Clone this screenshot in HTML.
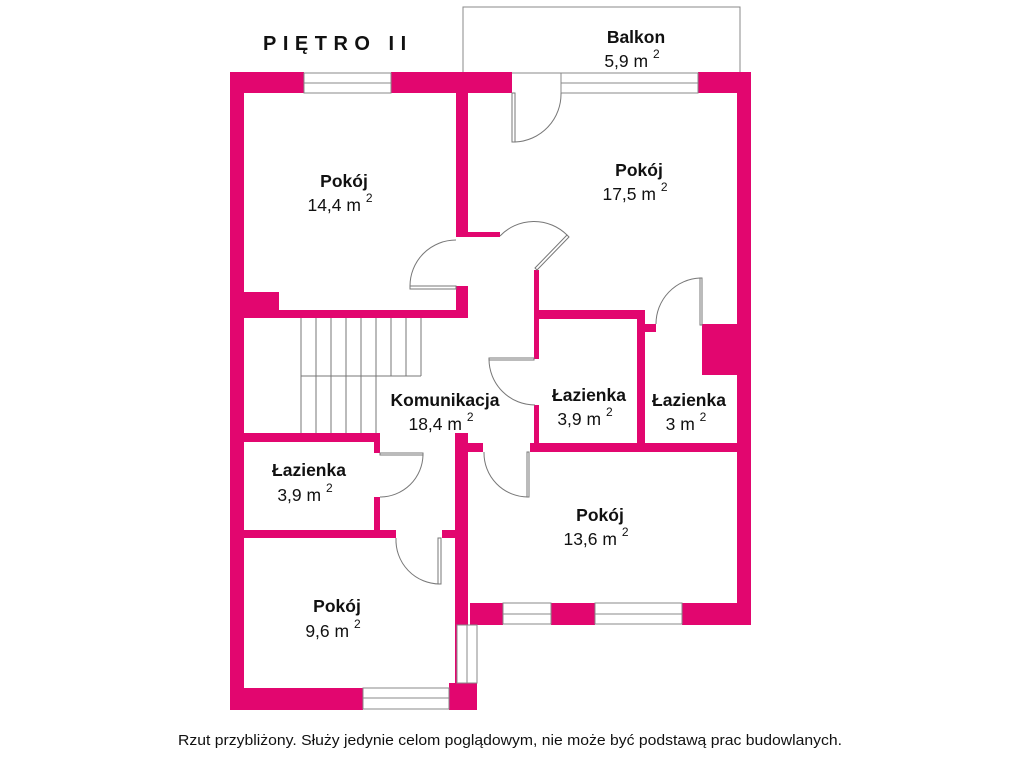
<!DOCTYPE html>
<html><head><meta charset="utf-8"><style>
html,body{margin:0;padding:0;background:#fff}
svg{display:block}
text{font-family:"Liberation Sans",sans-serif;fill:#111}
.b{font-weight:bold;font-size:17.5px}
.n{font-size:17.5px}
</style></head><body>
<svg width="1024" height="768" viewBox="0 0 1024 768" xmlns="http://www.w3.org/2000/svg">
<g fill="none" stroke="#888" stroke-width="1">
<rect x="463" y="7" width="277" height="66"/>
</g>
<g fill="#e2066f">
<rect x="230" y="72" width="74" height="21"/>
<rect x="391" y="72" width="121" height="21"/>
<rect x="698" y="72" width="53" height="21"/>
<rect x="230" y="72" width="14" height="638"/>
<rect x="737" y="72" width="14" height="553"/>
<rect x="470" y="603" width="33" height="22"/>
<rect x="551" y="603" width="44" height="22"/>
<rect x="682" y="603" width="69" height="22"/>
<rect x="230" y="688" width="133" height="22"/>
<rect x="449" y="683" width="28" height="27"/>
<rect x="456" y="93" width="12" height="144"/>
<rect x="468" y="232" width="32" height="5"/>
<rect x="456" y="286" width="12" height="32"/>
<rect x="244" y="310" width="224" height="8"/>
<rect x="244" y="292" width="35" height="18"/>
<rect x="534" y="270" width="5" height="89"/>
<rect x="534" y="405" width="5" height="38"/>
<rect x="534" y="310" width="110" height="9"/>
<rect x="637" y="310" width="8" height="134"/>
<rect x="645" y="324" width="11" height="8"/>
<rect x="702" y="324" width="36" height="51"/>
<rect x="530" y="443" width="208" height="9"/>
<rect x="455" y="433" width="13" height="192"/>
<rect x="468" y="443" width="15" height="9"/>
<rect x="244" y="433" width="136" height="9"/>
<rect x="374" y="433" width="6" height="20"/>
<rect x="374" y="497" width="6" height="41"/>
<rect x="244" y="530" width="152" height="8"/>
<rect x="442" y="530" width="13" height="8"/>
<rect x="455" y="625" width="2" height="58"/>
</g>
<g fill="#fff" stroke="#888" stroke-width="1">
<rect x="304" y="73" width="87" height="20"/><line x1="304" y1="83" x2="391" y2="83"/>
<rect x="561" y="73" width="137" height="20"/><line x1="561" y1="83" x2="698" y2="83"/>
<rect x="503" y="603" width="48" height="21"/><line x1="503" y1="614" x2="551" y2="614"/>
<rect x="595" y="603" width="87" height="21"/><line x1="595" y1="614" x2="682" y2="614"/>
<rect x="363" y="688" width="86" height="21"/><line x1="363" y1="698" x2="449" y2="698"/>
<rect x="457" y="625" width="20" height="58"/><line x1="467" y1="625" x2="467" y2="683"/>
</g>
<g fill="none" stroke="#777" stroke-width="1">
<line x1="301" y1="318" x2="301" y2="433"/>
<line x1="316" y1="318" x2="316" y2="433"/>
<line x1="331" y1="318" x2="331" y2="433"/>
<line x1="346" y1="318" x2="346" y2="433"/>
<line x1="361" y1="318" x2="361" y2="433"/>
<line x1="376" y1="318" x2="376" y2="433"/>
<line x1="391" y1="318" x2="391" y2="376"/>
<line x1="406" y1="318" x2="406" y2="376"/>
<line x1="421" y1="318" x2="421" y2="376"/>
<line x1="301" y1="376" x2="421" y2="376"/>
<rect x="512" y="93" width="3" height="49"/>
<path d="M515 142 A48 48 0 0 0 561 93"/>
<rect x="410" y="286" width="46" height="3"/>
<path d="M410 286 A46 46 0 0 1 456 240"/>
<path d="M535 268 L567 235 L569 237 L537 270 Z"/>
<path d="M500 236 A47 47 0 0 1 567 235"/>
<rect x="700" y="278" width="2" height="47"/>
<path d="M700 278 A46 46 0 0 0 656 324"/>
<rect x="489" y="358" width="45" height="2"/>
<path d="M489 359 A46 46 0 0 0 535 405"/>
<rect x="527" y="452" width="2" height="45"/>
<path d="M484 452 A44 44 0 0 0 528 497"/>
<rect x="380" y="453" width="43" height="2"/>
<path d="M423 455 A43 43 0 0 1 380 497"/>
<rect x="438" y="538" width="3" height="46"/>
<path d="M396 538 A44 44 0 0 0 440 584"/>
</g>
<text x="263" y="50" font-weight="bold" font-size="20" letter-spacing="6.5">PIĘTRO II</text>
<g text-anchor="middle">
<text class="b" x="636" y="43">Balkon</text><text class="n" x="632" y="67">5,9 m <tspan font-size="12" dy="-9">2</tspan></text>
<text class="b" x="344" y="187">Pokój</text><text class="n" x="340" y="211">14,4 m <tspan font-size="12" dy="-9">2</tspan></text>
<text class="b" x="639" y="176">Pokój</text><text class="n" x="635" y="200">17,5 m <tspan font-size="12" dy="-9">2</tspan></text>
<text class="b" x="445" y="406">Komunikacja</text><text class="n" x="441" y="430">18,4 m <tspan font-size="12" dy="-9">2</tspan></text>
<text class="b" x="589" y="401">Łazienka</text><text class="n" x="585" y="425">3,9 m <tspan font-size="12" dy="-9">2</tspan></text>
<text class="b" x="689" y="406">Łazienka</text><text class="n" x="686" y="430">3 m <tspan font-size="12" dy="-9">2</tspan></text>
<text class="b" x="309" y="476">Łazienka</text><text class="n" x="305" y="501">3,9 m <tspan font-size="12" dy="-9">2</tspan></text>
<text class="b" x="600" y="521">Pokój</text><text class="n" x="596" y="545">13,6 m <tspan font-size="12" dy="-9">2</tspan></text>
<text class="b" x="337" y="612">Pokój</text><text class="n" x="333" y="637">9,6 m <tspan font-size="12" dy="-9">2</tspan></text>
</g>
<text x="178" y="745" font-size="15" textLength="664" lengthAdjust="spacingAndGlyphs">Rzut przybliżony. Służy jedynie celom poglądowym, nie może być podstawą prac budowlanych.</text>
</svg>
</body></html>
